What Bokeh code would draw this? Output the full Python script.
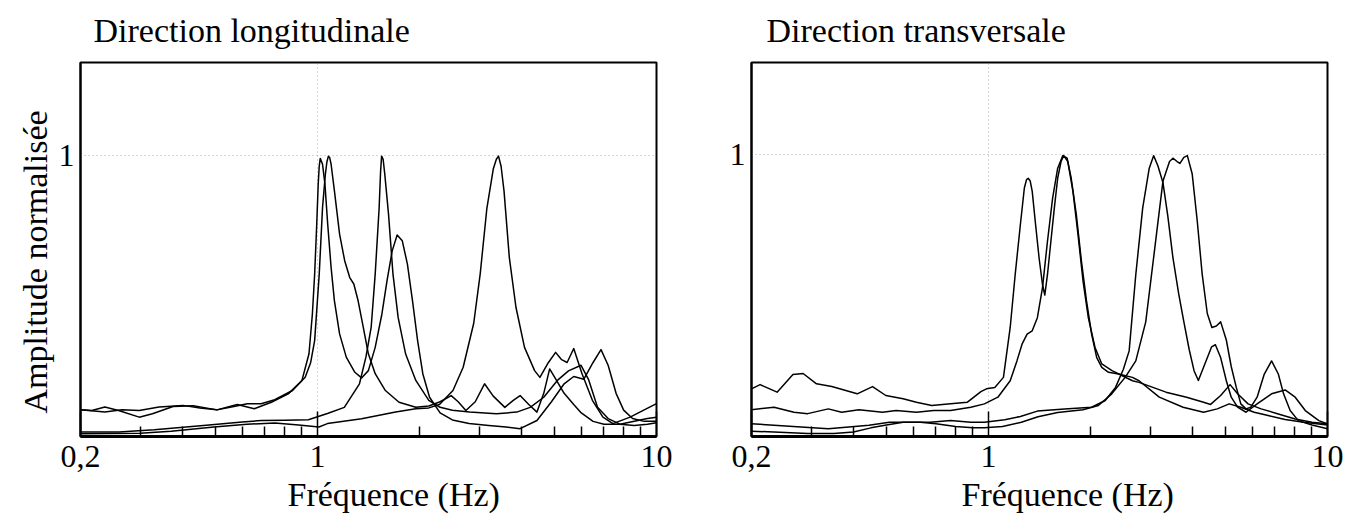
from bokeh.plotting import figure
from bokeh.layouts import row
from bokeh.models import FixedTicker, Title, ColumnDataSource, CustomJSTickFormatter
from bokeh.embed import file_html
from bokeh.resources import INLINE

FONT = "Liberation Serif"

# ---------------- axes ----------------
X_TICKS = [0.2, 1, 10]
X_TICK_LABELS = ["0,2", "1", "10"]
X_MINOR = [0.3, 0.4, 0.5, 0.6, 0.7, 0.8, 0.9, 2, 3, 4, 5, 6, 7, 8, 9]
Y_TICKS = [1]

TITLES = ["Direction longitudinale", "Direction transversale"]
X_LABEL = "Fréquence (Hz)"
Y_LABEL = "Amplitude normalisée"

# ---------------- Direction longitudinale ----------------
long_1_f = [0.2, 0.216, 0.236, 0.259, 0.298, 0.326, 0.375, 0.43, 0.505, 0.58,
            0.651, 0.731, 0.82, 0.90, 0.944, 0.966, 0.981, 0.995, 1.005, 1.012, 1.019,
            1.035, 1.052, 1.072, 1.097, 1.122, 1.162, 1.216, 1.289, 1.349, 1.413,
            1.48, 1.549, 1.604, 1.661, 1.718, 1.779, 1.842, 1.907, 1.974, 2.045,
            2.141, 2.3, 2.5, 2.8, 3.2, 3.6, 3.96, 4.44, 4.9, 5.34,
            5.7, 6.1, 6.5, 6.86, 7.2, 7.6, 8.0, 8.5, 9.2, 10.0]
long_1_a = [0.091, 0.089, 0.101, 0.089, 0.065, 0.077, 0.103, 0.106, 0.091, 0.110,
            0.095, 0.118, 0.148, 0.196, 0.291, 0.433, 0.575, 0.753, 0.896, 0.96, 0.988,
            0.967, 0.896, 0.753, 0.599, 0.480, 0.362, 0.279, 0.225, 0.205, 0.231,
            0.314, 0.433, 0.552, 0.658, 0.715, 0.694, 0.611, 0.480, 0.338, 0.220,
            0.136, 0.08, 0.055, 0.042, 0.035, 0.03, 0.024, 0.053, 0.12, 0.184,
            0.21, 0.2, 0.26, 0.306, 0.25, 0.15, 0.09, 0.06, 0.05, 0.05]

long_2_f = [0.2, 0.236, 0.265, 0.298, 0.341, 0.401, 0.45, 0.505, 0.567, 0.621,
            0.682, 0.748, 0.844, 0.92, 0.955, 0.981, 1.012, 1.035, 1.055, 1.066, 1.077,
            1.087, 1.097, 1.122, 1.162, 1.203, 1.245, 1.28, 1.318, 1.365, 1.413, 1.48,
            1.586, 1.74, 1.95, 2.13, 2.3, 2.48, 2.6, 2.74, 2.92, 3.11,
            3.3, 3.57, 3.78, 3.96, 4.2, 4.44, 4.65, 4.84, 5.05, 5.34,
            5.7, 6.0, 6.5, 7.0, 7.8, 8.6, 9.4, 10.0]
long_2_a = [0.091, 0.083, 0.091, 0.089, 0.101, 0.107, 0.098, 0.091, 0.103, 0.113,
            0.113, 0.127, 0.160, 0.207, 0.26, 0.338, 0.575, 0.813, 0.931, 0.975, 0.996,
            0.99, 0.967, 0.872, 0.718, 0.623, 0.563, 0.54, 0.48, 0.385, 0.291, 0.22,
            0.16, 0.118, 0.10, 0.105, 0.12, 0.142, 0.12, 0.089, 0.12, 0.184,
            0.14, 0.10, 0.125, 0.142, 0.11, 0.083, 0.15, 0.237, 0.2, 0.15,
            0.11, 0.08, 0.05, 0.04, 0.04, 0.05, 0.06, 0.065]

long_3_f = [0.2, 0.26, 0.33, 0.47, 0.6, 0.683, 0.8, 0.94, 1.07, 1.2,
            1.33, 1.39, 1.44, 1.48, 1.52, 1.535, 1.546, 1.562, 1.58, 1.62, 1.67, 1.73,
            1.82, 1.95, 2.13, 2.3, 2.5, 2.81, 3.37, 3.87, 4.24, 4.65,
            5.1, 5.5, 5.99, 6.3, 6.7, 7.2, 7.8, 8.6, 9.4, 10.0]
long_3_a = [0.012, 0.012, 0.02, 0.036, 0.048, 0.053, 0.054, 0.056, 0.078, 0.10,
            0.184, 0.28, 0.385, 0.575, 0.81, 0.94, 0.996, 0.985, 0.93, 0.79, 0.575, 0.42,
            0.29, 0.196, 0.125, 0.10, 0.09, 0.083, 0.077, 0.083, 0.10, 0.136,
            0.196, 0.23, 0.25, 0.2, 0.1, 0.06, 0.04, 0.035, 0.04, 0.045]

long_4_f = [0.2, 0.3, 0.37, 0.495, 0.62, 0.749, 0.88, 1.01, 1.07, 1.35,
            1.7, 1.95, 2.13, 2.29, 2.51, 2.69, 2.89, 3.02, 3.16, 3.3, 3.37,
            3.42, 3.48, 3.55, 3.68, 3.85, 4.08, 4.37, 4.53, 4.8, 5.04, 5.25,
            5.45, 5.7, 6.03, 6.47, 6.95, 7.44, 8.36, 9.14, 10.0]
long_4_a = [0.006, 0.008, 0.015, 0.03, 0.04, 0.044, 0.037, 0.03, 0.042, 0.059,
            0.083, 0.095, 0.098, 0.11, 0.16, 0.243, 0.40, 0.576, 0.81, 0.95, 0.985,
            0.996, 0.96, 0.872, 0.635, 0.457, 0.314, 0.231, 0.207, 0.26, 0.296, 0.27,
            0.26, 0.31, 0.22, 0.125, 0.065, 0.042, 0.065, 0.089, 0.113]

# ---------------- Direction transversale ----------------
trans_1_f = [0.2, 0.212, 0.238, 0.265, 0.284, 0.311, 0.345, 0.41, 0.455, 0.498,
             0.56, 0.613, 0.68, 0.773, 0.867, 0.95, 0.986, 1.044, 1.107, 1.159,
             1.199, 1.242, 1.276, 1.295, 1.31, 1.328, 1.346, 1.377, 1.41, 1.443, 1.466, 1.493,
             1.528, 1.564, 1.6, 1.637, 1.667, 1.714, 1.775, 1.837, 1.901, 1.97,
             2.062, 2.159, 2.314, 2.482, 2.659, 2.78, 3.34, 3.84, 4.31, 4.52,
             4.84, 5.16, 5.43, 5.83, 6.37, 7.16, 8.03, 9.0, 10.0]
trans_1_a = [0.160, 0.175, 0.148, 0.211, 0.215, 0.178, 0.168, 0.142, 0.168, 0.136,
             0.124, 0.112, 0.10, 0.106, 0.112, 0.15, 0.16, 0.165, 0.201, 0.38,
             0.57, 0.749, 0.88, 0.91, 0.915, 0.905, 0.868, 0.749, 0.63, 0.535, 0.496, 0.57,
             0.689, 0.808, 0.915, 0.975, 0.996, 0.975, 0.868, 0.713, 0.546, 0.415,
             0.308, 0.249, 0.225, 0.207, 0.189, 0.183, 0.148, 0.13, 0.112, 0.104,
             0.136, 0.175, 0.142, 0.106, 0.088, 0.07, 0.052, 0.04, 0.035]

trans_2_f = [0.2, 0.233, 0.267, 0.293, 0.337, 0.369, 0.415, 0.487, 0.534, 0.613,
             0.689, 0.773, 0.887, 0.973, 1.066, 1.159, 1.214, 1.256, 1.30, 1.346,
             1.394, 1.443, 1.493, 1.546, 1.60, 1.657, 1.706, 1.754, 1.816, 1.88,
             1.946, 2.015, 2.086, 2.159, 2.26, 2.42, 2.659, 2.78, 3.19, 3.75,
             4.31, 4.73, 5.13, 5.55, 6.08, 6.68, 7.5, 8.5, 10.0]
trans_2_a = [0.085, 0.094, 0.076, 0.071, 0.088, 0.076, 0.085, 0.076, 0.082, 0.076,
             0.082, 0.082, 0.094, 0.106, 0.13, 0.189, 0.261, 0.32, 0.356, 0.368,
             0.415, 0.522, 0.689, 0.844, 0.951, 0.996, 0.987, 0.915, 0.785, 0.618,
             0.475, 0.356, 0.272, 0.237, 0.219, 0.213, 0.201, 0.189, 0.13, 0.094,
             0.076, 0.088, 0.106, 0.094, 0.076, 0.064, 0.05, 0.04, 0.03]

trans_3_f = [0.2, 0.233, 0.28, 0.337, 0.387, 0.444, 0.51, 0.586, 0.673, 0.773,
             0.887, 0.973, 1.117, 1.242, 1.394, 1.676, 2.015, 2.21, 2.37, 2.5,
             2.6, 2.72, 2.85, 2.98, 3.07, 3.16, 3.27, 3.38, 3.5, 3.64,
             3.77, 3.91, 4.04, 4.16, 4.35, 4.55, 4.67, 4.84, 5.03, 5.2,
             5.43, 5.75, 6.2, 6.84, 7.5, 8.03, 8.6, 9.43, 10.0]
trans_3_a = [0.035, 0.029, 0.023, 0.017, 0.023, 0.029, 0.04, 0.04, 0.04, 0.046,
             0.04, 0.04, 0.049, 0.061, 0.08, 0.088, 0.094, 0.118, 0.165, 0.23,
             0.296, 0.57, 0.808, 0.951, 0.996, 0.96, 0.9, 0.78, 0.63, 0.5,
             0.4, 0.3, 0.225, 0.19, 0.25, 0.31, 0.318, 0.272, 0.189, 0.13,
             0.094, 0.076, 0.106, 0.142, 0.156, 0.13, 0.082, 0.046, 0.034]

trans_4_f = [0.2, 0.233, 0.293, 0.35, 0.4, 0.45, 0.5, 0.56, 0.63, 0.7,
             0.8, 0.9, 0.973, 1.1, 1.25, 1.4, 1.6, 1.9, 2.11, 2.31,
             2.53, 2.72, 2.91, 3.12, 3.27, 3.42, 3.5, 3.6, 3.67, 3.77,
             3.86, 3.99, 4.13, 4.27, 4.42, 4.56, 4.7, 4.84, 5.03, 5.2,
             5.38, 5.55, 5.75, 5.94, 6.2, 6.51, 6.84, 7.16, 7.42, 7.76,
             8.2, 9.0, 10.0]
trans_4_a = [0.008, 0.005, 0.0, 0.0, 0.005, 0.02, 0.03, 0.04, 0.04, 0.035,
             0.025, 0.02, 0.02, 0.025, 0.04, 0.06, 0.075, 0.085, 0.10, 0.142,
             0.201, 0.26, 0.4, 0.7, 0.904, 0.975, 0.987, 0.975, 0.968, 0.99,
             0.996, 0.93, 0.76, 0.57, 0.43, 0.38, 0.385, 0.40, 0.335, 0.24,
             0.166, 0.106, 0.088, 0.094, 0.13, 0.213, 0.26, 0.213, 0.142, 0.082,
             0.046, 0.03, 0.017]

LONG_CURVES = [(long_1_f, long_1_a), (long_2_f, long_2_a), (long_3_f, long_3_a), (long_4_f, long_4_a)]
TRANS_CURVES = [(trans_1_f, trans_1_a), (trans_2_f, trans_2_a), (trans_3_f, trans_3_a), (trans_4_f, trans_4_a)]

FRAME_W, FRAME_H = 576, 374


def make_panel(title, curves, y_label, border_left, y_start, title_offset, xlabel_offset):
    p = figure(frame_width=FRAME_W, frame_height=FRAME_H, x_axis_type="log",
               x_range=(X_TICKS[0], X_TICKS[-1]), y_range=(y_start, 1.33),
               output_backend="svg", toolbar_location=None,
               min_border_left=border_left, min_border_right=20,
               min_border_top=62, min_border_bottom=90,
               background_fill_color="white", border_fill_color="white")
    p.title.text = title
    p.title.text_font = FONT
    p.title.text_font_size = "34px"
    p.title.text_font_style = "normal"
    p.title.text_color = "black"
    p.title.align = "left"
    p.title.offset = title_offset
    p.title.vertical_align = "top"
    p.title.standoff = 23

    p.outline_line_color = "black"
    p.outline_line_width = 2
    p.outline_line_alpha = 1

    # faint dotted grid lines at 1
    p.xgrid.ticker = FixedTicker(ticks=[1])
    p.ygrid.ticker = FixedTicker(ticks=Y_TICKS)
    for g in (p.xgrid[0], p.ygrid[0]):
        g.grid_line_color = "#9a9a9a"
        g.grid_line_dash = "1 3"
        g.grid_line_width = 1
        g.grid_line_alpha = 0.8

    ax = p.xaxis[0]
    ax.ticker = FixedTicker(ticks=X_TICKS, minor_ticks=X_MINOR)
    ax.formatter = CustomJSTickFormatter(
        args=dict(tick_values=X_TICKS, tick_labels=X_TICK_LABELS),
        code="""
        for (let i = 0; i < tick_values.length; i++) {
            if (Math.abs(tick_values[i] - tick) < 1e-6 * tick_values[i]) return tick_labels[i];
        }
        return "";
        """)
    ax.major_tick_in = 25
    ax.major_tick_out = 0
    ax.minor_tick_in = 10
    ax.minor_tick_out = 0
    ax.major_tick_line_width = 1.5
    ax.minor_tick_line_width = 1.5
    ax.major_tick_line_color = "black"
    ax.minor_tick_line_color = "black"
    ax.axis_line_width = 3
    ax.axis_line_color = "black"
    ax.major_label_text_font = FONT
    ax.major_label_text_font_size = "32px"
    ax.major_label_text_color = "black"
    ax.major_label_standoff = 9

    xl = Title(text=X_LABEL, align="left", offset=xlabel_offset, text_font=FONT,
               text_font_size="34px", text_font_style="normal", text_color="black",
               standoff=8)
    p.add_layout(xl, "below")

    ya = p.yaxis[0]
    ya.ticker = FixedTicker(ticks=Y_TICKS)
    ya.major_tick_in = 0
    ya.major_tick_out = 0
    ya.minor_tick_line_color = None
    ya.axis_line_width = 2
    ya.axis_line_color = "black"
    ya.major_label_text_font = FONT
    ya.major_label_text_font_size = "32px"
    ya.major_label_text_color = "black"
    ya.major_label_standoff = 6
    if y_label:
        yl = Title(text=y_label, align="left", offset=23, text_font=FONT,
                   text_font_size="34px", text_font_style="normal", text_color="black",
                   standoff=4)
        p.add_layout(yl, "left")

    for f, a in curves:
        src = ColumnDataSource(dict(f=f, a=a))
        p.line("f", "a", source=src, line_color="black", line_width=1.5,
               line_join="round")
    return p


p1 = make_panel(TITLES[0], LONG_CURVES, Y_LABEL, 80, -0.004, 13, 207)
p2 = make_panel(TITLES[1], TRANS_CURVES, None, 75, -0.011, 15, 210)

layout = row(p1, p2)
open("out.html", "w").write(file_html(layout, INLINE))
